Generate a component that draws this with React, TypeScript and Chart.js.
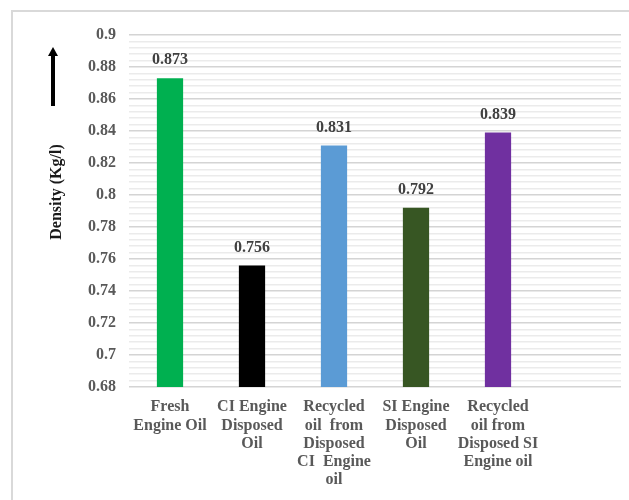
import React, { useEffect, useRef } from "react";
import { Chart, registerables } from "chart.js";

Chart.register(...registerables);

const categories: string[][] = [
  ["Fresh", "Engine Oil"],
  ["CI Engine", "Disposed", "Oil"],
  ["Recycled", "oil  from", "Disposed", "CI  Engine", "oil"],
  ["SI Engine", "Disposed", "Oil"],
  ["Recycled", "oil from", "Disposed SI", "Engine oil"],
  [""],
];
const densities: (number | null)[] = [0.873, 0.756, 0.831, 0.792, 0.839, null];
const barColors: string[] = ["#00B050", "#000000", "#5B9BD5", "#375623", "#7030A0", "#ffffff"];
const yMin = 0.68;
const yMax = 0.9;
const yMajorStep = 0.02;
const yMinorStep = 0.004;
const yTitle = "Density (Kg/l)";

const FONT = "'Liberation Serif', 'Times New Roman', serif";

const isMajor = (v: number) => Math.round(v * 1000) % Math.round(yMajorStep * 1000) === 0;

const decorPlugin = {
  id: "decor",
  beforeDraw(chart: any) {
    const ctx = chart.ctx;
    ctx.save();
    ctx.fillStyle = "#ffffff";
    ctx.fillRect(0, 0, chart.width, chart.height);
    ctx.strokeStyle = "#d9d9d9";
    ctx.lineWidth = 2;
    ctx.beginPath();
    ctx.moveTo(12, chart.height);
    ctx.lineTo(12, 11);
    ctx.lineTo(chart.width, 11);
    ctx.stroke();
    ctx.restore();
  },
  afterDatasetsDraw(chart: any) {
    const ctx = chart.ctx;
    const area = chart.chartArea;
    ctx.save();
    const meta = chart.getDatasetMeta(0);
    ctx.font = `bold 16px ${FONT}`;
    ctx.fillStyle = "#404040";
    ctx.textAlign = "center";
    ctx.textBaseline = "middle";
    meta.data.forEach((bar: any, i: number) => {
      const v = densities[i];
      if (v == null) return;
      ctx.fillText(v.toFixed(3), bar.x, bar.y - 18);
    });
    const tx = area.left - 72;
    ctx.translate(tx, area.top + 157);
    ctx.rotate(-Math.PI / 2);
    ctx.font = `bold 16px ${FONT}`;
    ctx.fillStyle = "#1a1a1a";
    ctx.fillText(yTitle, 0, 0);
    ctx.restore();
    ctx.save();
    const ax = area.left - 76;
    const top = area.top + 12;
    const bottom = area.top + 71;
    ctx.fillStyle = "#000000";
    ctx.fillRect(ax - 2, top + 8, 4, bottom - top - 8);
    ctx.beginPath();
    ctx.moveTo(ax, top);
    ctx.lineTo(ax + 5, top + 9);
    ctx.lineTo(ax - 5, top + 9);
    ctx.closePath();
    ctx.fill();
    ctx.restore();
  },
};

export default function App() {
  const ref = useRef<HTMLCanvasElement>(null);
  useEffect(() => {
    document.body.style.margin = "0";
    const chart = new Chart(ref.current!, {
      type: "bar",
      data: {
        labels: categories,
        datasets: [
          {
            data: densities,
            backgroundColor: barColors,
            barPercentage: 0.32,
            categoryPercentage: 1,
          },
        ],
      },
      options: {
        animation: false,
        responsive: false,
        maintainAspectRatio: false,
        layout: { padding: { top: 35, right: 8, left: 0, bottom: 0 } },
        plugins: { legend: { display: false }, tooltip: { enabled: false } },
        scales: {
          x: {
            grid: { display: false },
            border: { display: false },
            ticks: {
              color: "#595959",
              font: { family: FONT, size: 16, weight: "bold", lineHeight: 1.14 },
              padding: 3,
              maxRotation: 0,
              autoSkip: false,
            },
            afterFit: (s: any) => {
              s.height = 113;
            },
          },
          y: {
            min: yMin,
            max: yMax,
            border: { display: false },
            grid: {
              drawTicks: false,
              color: (c: any) => (isMajor(c.tick.value) ? "#d4d4d4" : "#ebebeb"),
              lineWidth: 1.5,
            },
            ticks: {
              stepSize: yMinorStep,
              autoSkip: false,
              padding: 13,
              color: "#595959",
              font: { family: FONT, size: 16, weight: "bold" },
              callback: (v: any) => (isMajor(Number(v)) ? String(Math.round(Number(v) * 100) / 100) : ""),
            },
            afterFit: (s: any) => {
              s.width = 129;
            },
          },
        },
      },
      plugins: [decorPlugin],
    });
    return () => chart.destroy();
  }, []);
  return (
    <div style={{ width: 629, height: 500 }}>
      <canvas ref={ref} width={629} height={500} style={{ display: "block" }} />
    </div>
  );
}
